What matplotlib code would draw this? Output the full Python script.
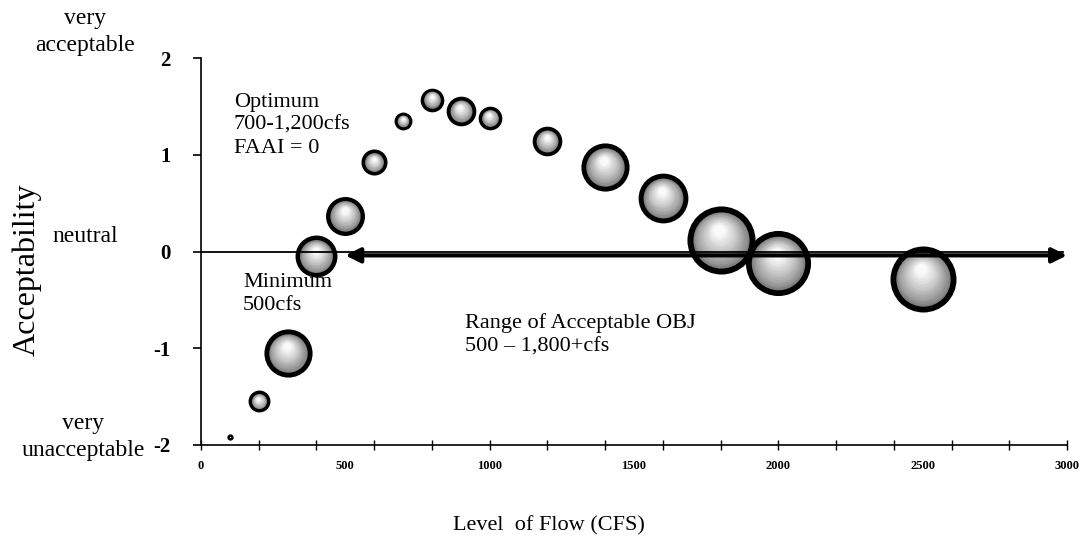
import numpy as np
import matplotlib
matplotlib.use('Agg')
import matplotlib.pyplot as plt
from matplotlib.transforms import offset_copy

plt.rcParams['font.family'] = 'Liberation Serif'
plt.rcParams['axes.unicode_minus'] = False

# data
flow = [100, 200, 300, 400, 500, 600, 700, 800, 900, 1000, 1200, 1400, 1600, 1800, 2000, 2500]
accept = [-1.92, -1.55, -1.05, -0.05, 0.37, 0.92, 1.35, 1.57, 1.45, 1.38, 1.14, 0.87, 0.55, 0.12, -0.12, -0.28]
bubble_size = [1, 12, 58, 44, 38, 17, 8, 14, 22, 14, 22, 58, 62, 116, 106, 109]
range_lo, range_hi = 500, 3000
y_ticks = [-2, -1, 0, 1, 2]

W, H = 1084, 543
fig = plt.figure(figsize=(W / 100, H / 100), dpi=100)
ax = fig.add_axes([201 / W, 98 / H, 866 / W, 387 / H])
ax.set_xlim(0, 3000)
ax.set_ylim(-2, 2)
for s in ['top', 'right']:
    ax.spines[s].set_visible(False)
for s in ['left', 'bottom']:
    ax.spines[s].set_linewidth(1.2)

# shaded "sphere" bubbles, built from stacked circles
PT = 0.72  # points per pixel at dpi 100
nlay = 16
for x, y, sz in zip(flow, accept, bubble_size):
    r = 3.16 * np.sqrt(sz)
    ring = 2.2 + 0.11 * r
    ax.scatter([x], [y], s=(2 * r * PT) ** 2, c='black', lw=0, zorder=2)
    r_in = r - ring
    if r_in <= 0:
        continue
    for k in range(nlay):
        t = k / (nlay - 1)
        rad = r_in * (1 - 0.8 * t)
        dy = r_in * 0.35 * t
        dx = -r_in * 0.05 * t
        g = 0.5 + 0.48 * t ** 0.8
        tr = offset_copy(ax.transData, fig=fig, x=dx * PT, y=dy * PT, units='points')
        ax.scatter([x], [y], s=(2 * rad * PT) ** 2, color=(g, g, g), lw=0,
                   transform=tr, zorder=3)

# zero line and the range arrow
ax.axhline(0, xmin=0, xmax=0.995, color='black', lw=1.3, zorder=5)
ax.annotate('', xy=(range_lo, -0.04), xytext=(range_hi, -0.04),
            arrowprops=dict(arrowstyle='<|-|>', lw=3, color='black',
                            mutation_scale=22, shrinkA=0, shrinkB=0),
            zorder=5)

# ticks
ax.set_yticks(y_ticks)
ax.set_yticklabels([str(v) for v in y_ticks], fontsize=15, fontweight='bold')
ax.tick_params(axis='y', direction='out', length=6, width=1.2, pad=16)
ax.set_xticks(np.arange(0, 3001, 500))
ax.set_xticklabels([str(v) for v in range(0, 3001, 500)], fontsize=9, fontweight='bold')
ax.set_xticks(np.arange(0, 3001, 200), minor=True)
ax.xaxis.remove_overlapping_locs = False
ax.tick_params(axis='x', which='major', length=0, pad=11)
ax.tick_params(axis='x', which='minor', direction='inout', length=7, width=1)

# annotations in the plot
ax.text(114, 1.64, 'Optimum\n700-1,200cfs\nFAAI = 0', fontsize=16, va='top', ha='left',
        linespacing=1.3)
ax.text(146, -0.22, 'Minimum\n500cfs', fontsize=16, va='top', ha='left', linespacing=1.3)
ax.text(915, -0.64, 'Range of Acceptable OBJ\n500 \u2013 1,800+cfs', fontsize=16,
        va='top', ha='left', linespacing=1.3)

# side labels
def fx(px):
    return px / W

def fy(py):
    return 1 - py / H

fig.text(fx(85), fy(32), 'very\nacceptable', fontsize=17, ha='center', va='center',
         linespacing=1.4)
fig.text(fx(85), fy(236), 'neutral', fontsize=17, ha='center', va='center')
fig.text(fx(83), fy(437), 'very\nunacceptable', fontsize=17, ha='center', va='center',
         linespacing=1.4)
fig.text(fx(27), fy(270), 'Acceptability', fontsize=23, rotation=90, ha='center', va='center')
fig.text(fx(549), fy(526), 'Level  of Flow (CFS)', fontsize=16, ha='center', va='center')

fig.savefig('out.png', dpi=100)
